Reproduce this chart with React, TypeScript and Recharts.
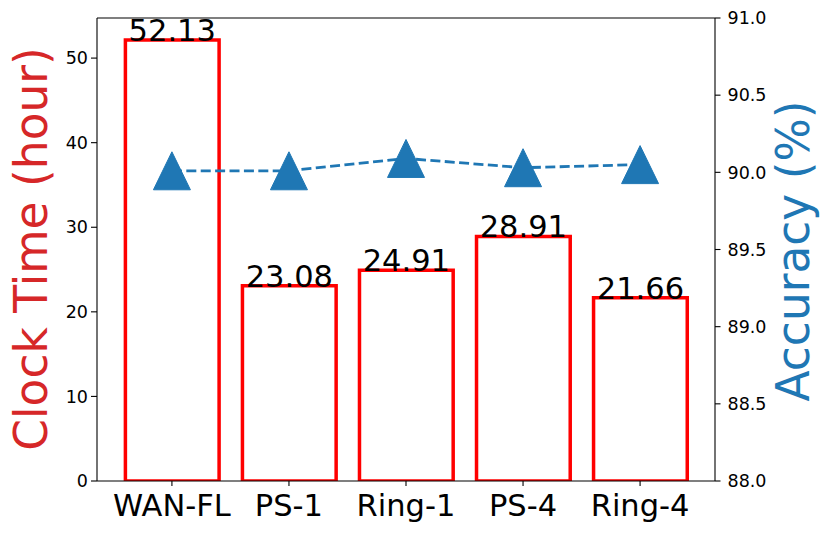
import React from 'react';
import { ComposedChart, Bar, Line, XAxis, YAxis, LabelList, ReferenceLine, Label } from 'recharts';

// Values
const methods = ['WAN-FL', 'PS-1', 'Ring-1', 'PS-4', 'Ring-4'];
const clockHours = [52.13, 23.08, 24.91, 28.91, 21.66];
const accuracy = [90.01, 90.01, 90.09, 90.03, 90.05];
const hourTicks = [0, 10, 20, 30, 40, 50];
const accTicks = [88.0, 88.5, 89.0, 89.5, 90.0, 90.5, 91.0];
const hourMax = 54.74;

const data = methods.map((m, i) => ({ name: m, hours: clockHours[i], acc: accuracy[i] }));

const FONT = '"DejaVu Sans", sans-serif';
const BLUE = '#1f77b4';

// matplotlib '^' marker
const Triangle = (props: any) => {
  const { cx, cy } = props;
  if (cx == null || cy == null) return null;
  return (
    <path
      d={`M${cx},${cy - 19} L${cx + 18.5},${cy + 19} L${cx - 18.5},${cy + 19} Z`}
      fill={BLUE}
      stroke={BLUE}
      strokeWidth={1}
    />
  );
};

const BarValue = (props: any) => {
  const { x, y, width, value } = props;
  return (
    <text x={x + width / 2} y={y + 1} textAnchor="middle" fontSize={30.5} fontFamily={FONT} fill="#000">
      {value.toFixed(2)}
    </text>
  );
};

export default function App() {
  return (
    <div style={{ position: 'absolute', left: 0, top: 0, width: 830, height: 534, background: '#fff' }}>
      <ComposedChart
        width={830}
        height={534}
        data={data}
        margin={{ top: 18, right: 0, bottom: 0, left: 0 }}
        style={{ fontFamily: FONT }}
      >
        <XAxis
          dataKey="name"
          height={53}
          padding={{ left: 16.4, right: 16.4 }}
          tickSize={5}
          tickMargin={8}
          tick={{ fontSize: 30.5, fill: '#000' }}
          axisLine={{ stroke: '#000', strokeWidth: 1.1 }}
          tickLine={{ stroke: '#000', strokeWidth: 1.1 }}
        />
        <YAxis
          yAxisId="left"
          width={97}
          domain={[0, hourMax]}
          ticks={hourTicks}
          allowDataOverflow
          tickSize={6}
          tickMargin={3}
          tick={{ fontSize: 17.5, fill: '#000' }}
          axisLine={{ stroke: '#000', strokeWidth: 1.1 }}
          tickLine={{ stroke: '#000', strokeWidth: 1.1 }}
        >
          <Label
            content={() => (
              <text
                x={47}
                y={249}
                transform="rotate(-90, 47, 249)"
                textAnchor="middle"
                fontSize={45.5}
                fontFamily={FONT}
                fill="#d62728"
              >
                Clock Time (hour)
              </text>
            )}
          />
        </YAxis>
        <YAxis
          yAxisId="right"
          orientation="right"
          width={115}
          domain={[88, 91]}
          ticks={accTicks}
          allowDataOverflow
          tickFormatter={(v: number) => v.toFixed(1)}
          tickSize={5.5}
          tickMargin={7}
          tick={{ fontSize: 17.5, fill: '#000' }}
          axisLine={{ stroke: '#000', strokeWidth: 1.1 }}
          tickLine={{ stroke: '#000', strokeWidth: 1.1 }}
        >
          <Label
            content={() => (
              <text
                x={809}
                y={251}
                transform="rotate(-90, 809, 251)"
                textAnchor="middle"
                fontSize={45.5}
                fontFamily={FONT}
                fill={BLUE}
              >
                Accuracy (%)
              </text>
            )}
          />
        </YAxis>
        <ReferenceLine yAxisId="left" y={hourMax} stroke="#000" strokeWidth={1.1} />
        <Bar
          yAxisId="left"
          dataKey="hours"
          barSize={93.7}
          fill="#fff"
          stroke="#ff0000"
          strokeWidth={3.5}
          isAnimationActive={false}
        >
          <LabelList dataKey="hours" content={<BarValue />} />
        </Bar>
        <Line
          yAxisId="right"
          dataKey="acc"
          stroke={BLUE}
          strokeWidth={2.8}
          strokeDasharray="10 4.4"
          dot={<Triangle />}
          activeDot={false}
          isAnimationActive={false}
        />
      </ComposedChart>
    </div>
  );
}
